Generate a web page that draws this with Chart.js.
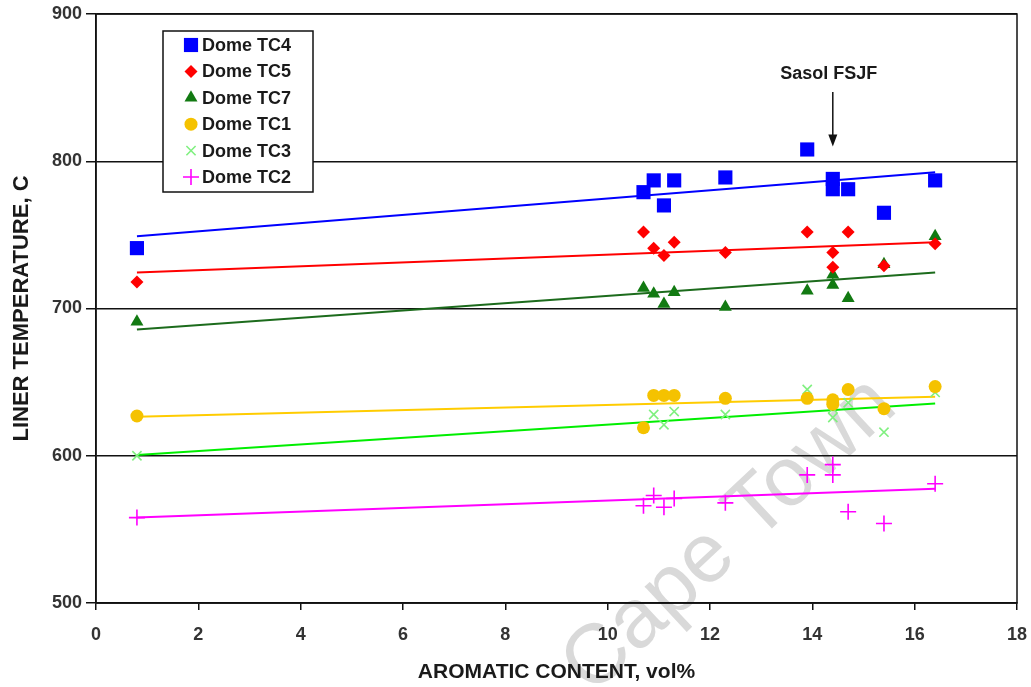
<!DOCTYPE html>
<html>
<head>
<meta charset="utf-8">
<script src="https://cdn.jsdelivr.net/npm/chart.js@4.4.1/dist/chart.umd.min.js"></script>
<style>
  html, body { margin: 0; padding: 0; background: #fff; }
  canvas { display: block; background: #fff; }
</style>
</head>
<body>
<canvas id="chart" width="1031" height="687"></canvas>
<script>
// Aromatic content of each fuel tested (vol%)
const aromatic = [0.8, 10.7, 10.9, 11.1, 11.3, 12.3, 13.9, 14.4, 14.4, 14.7, 15.4, 16.4];

// Liner temperatures (C) per thermocouple, one value per fuel
const domeTC4 = [741, 779, 787, 770, 787, 789, 808, 788, 781, 781, 765, 787];
const domeTC5 = [718, 752, 741, 736, 745, 738, 752, 738, 728, 752, 729, 744];
const domeTC7 = [691, 714, 710, 703, 711, 701, 712, 723, 716, 707, 730, 749];
const domeTC1 = [627, 619, 641, 641, 641, 639, 639, 635, 638, 645, 632, 647];
const domeTC3 = [600, 619, 628, 621, 630, 628, 645, 626, 632, 636, 616, 643];
const domeTC2 = [558, 566, 573, 565, 571, 568, 587, 594, 587, 562, 554, 581];

// Linear trend lines: end points over the tested range
const trendX = [0.8, 16.4];
const trendTC4 = [749, 792.5];
const trendTC5 = [724.5, 745];
const trendTC7 = [685.7, 724.5];
const trendTC1 = [626.5, 640];
const trendTC3 = [600.5, 635.5];
const trendTC2 = [558, 577.6];

// Axis tick values
const xTicks = [0, 2, 4, 6, 8, 10, 12, 14, 16, 18];
const yTicks = [500, 600, 700, 800, 900];

// Callout for the Sasol fuel
const calloutLabel = 'Sasol FSJF';
const calloutX = 14.4;
const calloutTextY = 859;
const calloutArrowFrom = 847;
const calloutArrowTo = 810;

const FONT = "'Liberation Sans', Arial, Helvetica, sans-serif";

function pairs(xs, ys) {
  const out = [];
  xs.forEach((x, i) => { if (ys[i] != null) out.push({ x: x, y: ys[i] }); });
  return out;
}

const series = [
  { label: 'Dome TC4', values: domeTC4, trend: trendTC4, style: 'rect',     radius: 10, fill: '#0000ff', stroke: '#0000ff', bw: 0,   line: '#0000ff' },
  { label: 'Dome TC5', values: domeTC5, trend: trendTC5, style: 'rectRot',  radius: 6.5, fill: '#ff0000', stroke: '#ff0000', bw: 0, line: '#ff0000' },
  { label: 'Dome TC7', values: domeTC7, trend: trendTC7, style: 'triangle', radius: 7.5, fill: '#127a12', stroke: '#127a12', bw: 0, line: '#1c6b1c' },
  { label: 'Dome TC1', values: domeTC1, trend: trendTC1, style: 'circle',   radius: 6.5, fill: '#f5c200', stroke: '#f5c200', bw: 0, line: '#ffcc00' },
  { label: 'Dome TC3', values: domeTC3, trend: trendTC3, style: 'crossRot', radius: 6.5, fill: '#80f080', stroke: '#80f080', bw: 1.6, line: '#00ee00' },
  { label: 'Dome TC2', values: domeTC2, trend: trendTC2, style: 'cross',    radius: 8,  fill: '#ff00ff', stroke: '#ff00ff', bw: 1.6, line: '#ff00ff' }
];

const datasets = [];
series.forEach(s => {
  datasets.push({
    type: 'scatter',
    label: s.label,
    data: pairs(aromatic, s.values),
    showLine: false,
    pointStyle: s.style,
    pointRadius: s.radius,
    pointHoverRadius: s.radius,
    backgroundColor: s.fill,
    borderColor: s.stroke,
    pointBorderWidth: s.bw,
    borderWidth: s.bw,
    order: 0
  });
});
series.forEach(s => {
  datasets.push({
    type: 'line',
    label: s.label + ' trend',
    data: pairs(trendX, s.trend),
    borderColor: s.line,
    borderWidth: 2,
    pointRadius: 0,
    fill: false,
    tension: 0,
    order: 10
  });
});

// Faint diagonal watermark behind the plot
const watermarkPlugin = {
  id: 'watermark',
  beforeDraw(chart) {
    const ctx = chart.ctx;
    ctx.save();
    ctx.translate(730, 536);
    ctx.rotate(-43 * Math.PI / 180);
    ctx.font = '84px ' + FONT;
    ctx.fillStyle = 'rgba(150,150,150,0.36)';
    ctx.textAlign = 'center';
    ctx.textBaseline = 'middle';
    ctx.fillText('Cape Town', 0, 0);
    ctx.restore();
  }
};

// Plot frame on all four sides
const framePlugin = {
  id: 'frame',
  beforeDatasetsDraw(chart) {
    const a = chart.chartArea, ctx = chart.ctx;
    ctx.save();
    ctx.strokeStyle = '#111';
    ctx.lineWidth = 1.5;
    ctx.strokeRect(a.left, a.top, a.right - a.left, a.bottom - a.top);
    ctx.restore();
  }
};

function drawMarker(ctx, s, x, y) {
  ctx.fillStyle = s.fill;
  ctx.strokeStyle = s.stroke;
  ctx.lineWidth = s.bw;
  if (Chart.helpers && Chart.helpers.drawPoint) {
    Chart.helpers.drawPoint(ctx, { pointStyle: s.style, radius: s.radius, borderWidth: s.bw, rotation: 0 }, x, y);
  } else {
    ctx.beginPath();
    ctx.arc(x, y, s.radius, 0, Math.PI * 2);
    ctx.fill();
  }
}

// Boxed legend inside the plot, plus the Sasol callout
const legendPlugin = {
  id: 'boxLegend',
  afterDraw(chart) {
    const ctx = chart.ctx;
    ctx.save();
    const bx = 163, by = 31, bw = 150, bh = 161;
    ctx.fillStyle = '#fff';
    ctx.fillRect(bx, by, bw, bh);
    ctx.strokeStyle = '#111';
    ctx.lineWidth = 1.5;
    ctx.strokeRect(bx, by, bw, bh);
    ctx.font = 'bold 18px ' + FONT;
    ctx.textBaseline = 'middle';
    ctx.textAlign = 'left';
    series.forEach((s, i) => {
      const y = 45 + i * 26.4;
      ctx.save();
      drawMarker(ctx, s, 191, y);
      ctx.restore();
      ctx.fillStyle = '#1a1a1a';
      ctx.fillText(s.label, 202, y + 1);
    });

    const xs = chart.scales.x, ys = chart.scales.y;
    const px = xs.getPixelForValue(calloutX);
    ctx.fillStyle = '#1a1a1a';
    ctx.textAlign = 'center';
    ctx.font = 'bold 18px ' + FONT;
    ctx.fillText(calloutLabel, px - 4, ys.getPixelForValue(calloutTextY));
    const y0 = ys.getPixelForValue(calloutArrowFrom);
    const y1 = ys.getPixelForValue(calloutArrowTo);
    ctx.strokeStyle = '#111';
    ctx.lineWidth = 1.5;
    ctx.beginPath();
    ctx.moveTo(px, y0);
    ctx.lineTo(px, y1 - 8);
    ctx.stroke();
    ctx.beginPath();
    ctx.moveTo(px - 4.5, y1 - 12);
    ctx.lineTo(px + 4.5, y1 - 12);
    ctx.lineTo(px, y1);
    ctx.closePath();
    ctx.fillStyle = '#111';
    ctx.fill();
    ctx.restore();
  }
};

new Chart(document.getElementById('chart'), {
  data: { datasets: datasets },
  plugins: [watermarkPlugin, framePlugin, legendPlugin],
  options: {
    responsive: false,
    animation: false,
    events: [],
    layout: { padding: { left: 0, right: 14, top: 14, bottom: 0 } },
    plugins: { legend: { display: false }, tooltip: { enabled: false } },
    scales: {
      x: {
        type: 'linear',
        min: xTicks[0],
        max: xTicks[xTicks.length - 1],
        afterBuildTicks(scale) { scale.ticks = xTicks.map(v => ({ value: v })); },
        afterFit(scale) { scale.height = 84; scale.paddingLeft = 0; scale.paddingRight = 0; },
        grid: { drawOnChartArea: false, drawTicks: true, tickLength: 7, color: '#111', lineWidth: 1.5 },
        border: { display: true, color: '#111', width: 1.5 },
        ticks: { padding: 14, color: '#333', font: { family: FONT, size: 18, weight: 'bold' }, maxRotation: 0, autoSkip: false },
        title: { display: true, text: 'AROMATIC CONTENT, vol%', color: '#1a1a1a', font: { family: FONT, size: 21, weight: 'bold' }, padding: { top: 0, bottom: 2 } }
      },
      y: {
        type: 'linear',
        min: yTicks[0],
        max: yTicks[yTicks.length - 1],
        afterBuildTicks(scale) { scale.ticks = yTicks.map(v => ({ value: v })); },
        afterFit(scale) { scale.width = 96; scale.paddingTop = 0; scale.paddingBottom = 0; },
        grid: { drawOnChartArea: true, drawTicks: true, tickLength: 10, color: '#111', lineWidth: 1.5 },
        border: { display: true, color: '#111', width: 1.5 },
        ticks: { padding: 4, color: '#333', font: { family: FONT, size: 18, weight: 'bold' } },
        title: { display: true, text: 'LINER TEMPERATURE, C', color: '#1a1a1a', font: { family: FONT, size: 22, weight: 'bold' }, padding: { top: 9, bottom: 0 } }
      }
    }
  }
});
</script>
</body>
</html>
